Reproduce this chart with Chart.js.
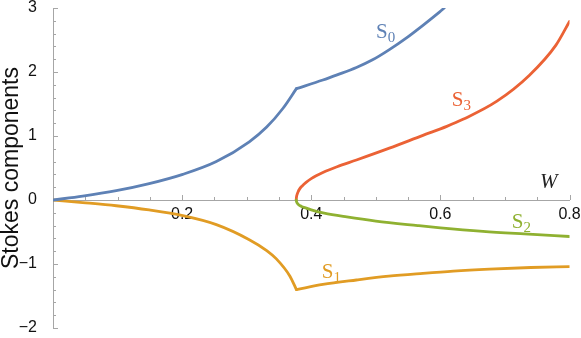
<!DOCTYPE html>
<html><head><meta charset="utf-8">
<script src="https://cdn.jsdelivr.net/npm/chart.js@4.4.1/dist/chart.umd.min.js"></script>
<style>html,body{margin:0;padding:0;background:#fff;}canvas{display:block;}</style>
</head><body>
<canvas id="c" width="581" height="338"></canvas>
<script>
// ---- data ----
const xTickValues = [0, 0.2, 0.4, 0.6, 0.8];
const yTickValues = [-2, -1, 0, 1, 2, 3];

// S0 before and after the kink at W ≈ 0.377
const s0LowW  = [0, 0.046, 0.098, 0.149, 0.201, 0.253, 0.304, 0.331, 0.356, 0.377];
const s0LowV  = [0, 0.06, 0.145, 0.255, 0.40, 0.60, 0.91, 1.14, 1.43, 1.74];
const s0HighW = [0.377, 0.418, 0.44, 0.47, 0.495, 0.521, 0.547, 0.573, 0.599, 0.606];
const s0HighV = [1.74, 1.875, 1.955, 2.07, 2.19, 2.35, 2.53, 2.73, 2.94, 3.0];

// S1
const s1LowW  = [0, 0.046, 0.098, 0.149, 0.201, 0.253, 0.304, 0.331, 0.346, 0.367, 0.377];
const s1LowV  = [0, -0.04, -0.09, -0.156, -0.245, -0.385, -0.62, -0.79, -0.92, -1.19, -1.40];
const s1HighW = [0.377, 0.418, 0.47, 0.52, 0.573, 0.62, 0.676, 0.74, 0.8];
const s1HighV = [-1.40, -1.32, -1.25, -1.19, -1.145, -1.11, -1.08, -1.055, -1.04];

// S2
const s2W = [0.3767, 0.3772, 0.378, 0.38, 0.385, 0.39, 0.4, 0.42, 0.455, 0.5, 0.565, 0.6, 0.666, 0.73, 0.8];
const s2V = [0, -0.025, -0.045, -0.07, -0.10, -0.12, -0.155, -0.205, -0.265, -0.33, -0.40, -0.435, -0.49, -0.53, -0.57];

// S3
const s3W = [0.3767, 0.3772, 0.378, 0.3795, 0.3818, 0.386, 0.392, 0.40, 0.418, 0.44, 0.47, 0.521, 0.573, 0.61, 0.635, 0.687, 0.738, 0.779, 0.8];
const s3V = [0, 0.05, 0.085, 0.125, 0.17, 0.22, 0.275, 0.335, 0.43, 0.52, 0.625, 0.81, 1.01, 1.15, 1.26, 1.54, 1.95, 2.42, 2.79];

// curve labels: [name, subscript, W, value, colour]
const curveLabels = [
  ['S', '0', 0.5003, 2.531, '#5E81B5'],
  ['S', '3', 0.6176, 1.461, '#EB6235'],
  ['S', '2', 0.7105, -0.4375, '#8FB131'],
  ['S', '1', 0.4162, -1.219, '#E19C24']
];
const axisLabelW = ['W', 0.7543, 0.1875];

const COLORS = { s0: '#5E81B5', s1: '#E19C24', s2: '#8FB131', s3: '#EB6235' };
const AXIS = '#a6a6a6';

function pts(ws, vs) { return ws.map((w, i) => ({ x: w, y: vs[i] })); }
function ds(ws, vs, color) {
  return { data: pts(ws, vs), showLine: true, borderColor: color, backgroundColor: color,
    borderWidth: 2.8, pointRadius: 0, cubicInterpolationMode: 'monotone', fill: false,
    borderCapStyle: 'round', borderJoinStyle: 'miter' };
}

const minorTicks = {
  id: 'minorTicks',
  beforeDatasetsDraw(chart) {
    const ctx = chart.ctx, xs = chart.scales.x, ys = chart.scales.y;
    const x0 = xs.getPixelForValue(0), y0 = ys.getPixelForValue(0);
    ctx.save();
    ctx.strokeStyle = AXIS; ctx.lineWidth = 1;
    ctx.beginPath();
    for (let i = 1; i <= 16; i++) {
      const v = i * 0.05;
      const px = Math.round(xs.getPixelForValue(v)) + 0.5;
      const len = (i % 4 === 0) ? 5 : 3;
      ctx.moveTo(px, y0); ctx.lineTo(px, y0 - len);
    }
    for (let i = -10; i <= 15; i++) {
      const v = i * 0.2;
      const py = Math.round(ys.getPixelForValue(v)) + 0.5;
      const len = (i % 5 === 0) ? 5 : 3;
      ctx.moveTo(x0, py); ctx.lineTo(x0 + len, py);
    }
    ctx.stroke();
    ctx.restore();
  },
  afterDraw(chart) {
    const ctx = chart.ctx, xs = chart.scales.x, ys = chart.scales.y;
    ctx.save();
    ctx.textBaseline = 'alphabetic'; ctx.textAlign = 'left';
    curveLabels.forEach(([s, sub, w, v, col]) => {
      const px = xs.getPixelForValue(w), py = ys.getPixelForValue(v);
      ctx.fillStyle = col;
      ctx.font = '21px "Liberation Serif"';
      ctx.fillText(s, px, py);
      const sw = ctx.measureText(s).width;
      ctx.font = '15px "Liberation Serif"';
      ctx.fillText(sub, px + sw, py + 4);
    });
    ctx.fillStyle = '#222';
    ctx.font = 'italic 21px "Liberation Serif"';
    ctx.fillText(axisLabelW[0], xs.getPixelForValue(axisLabelW[1]), ys.getPixelForValue(axisLabelW[2]));
    ctx.restore();
  }
};

new Chart(document.getElementById('c'), {
  type: 'scatter',
  data: { datasets: [
    ds(s0LowW, s0LowV, COLORS.s0), ds(s0HighW, s0HighV, COLORS.s0),
    ds(s1LowW, s1LowV, COLORS.s1), ds(s1HighW, s1HighV, COLORS.s1),
    ds(s2W, s2V, COLORS.s2), ds(s3W, s3V, COLORS.s3)
  ] },
  options: {
    responsive: false, animation: false, devicePixelRatio: 1,
    layout: { padding: { left: 0, top: 8, right: 11.5, bottom: 10 } },
    plugins: { legend: { display: false }, tooltip: { enabled: false } },
    scales: {
      x: {
        type: 'linear', min: 0, max: 0.8, position: { y: 0 },
        grid: { display: false },
        border: { display: true, color: AXIS, width: 1 },
        afterBuildTicks: s => { s.ticks = xTickValues.map(v => ({ value: v })); },
        afterFit: s => { s.paddingLeft = 0; s.paddingRight = 0; s.paddingTop = 0; s.paddingBottom = 0; },
        ticks: { padding: -3, color: '#111', font: { family: '"Liberation Sans"', size: 16 },
          maxRotation: 0, autoSkip: false,
          callback: v => (v === 0 ? null : v.toFixed(1)) }
      },
      y: {
        type: 'linear', min: -2, max: 3, position: 'left',
        grid: { display: false },
        border: { display: true, color: AXIS, width: 1 },
        afterBuildTicks: s => { s.ticks = yTickValues.map(v => ({ value: v })); },
        afterFit: s => { s.width = 53; s.paddingTop = 0; s.paddingBottom = 0; },
        ticks: { padding: 8, color: '#111', font: { family: '"Liberation Sans"', size: 16 },
          autoSkip: false,
          callback: v => (v < 0 ? '\u2212' + Math.abs(v) : String(v)) },
        title: { display: true, text: 'Stokes components', color: '#111',
          font: { family: '"Liberation Sans"', size: 23, lineHeight: 1 }, padding: 0 }
      }
    }
  },
  plugins: [minorTicks]
});
</script>
</body></html>
